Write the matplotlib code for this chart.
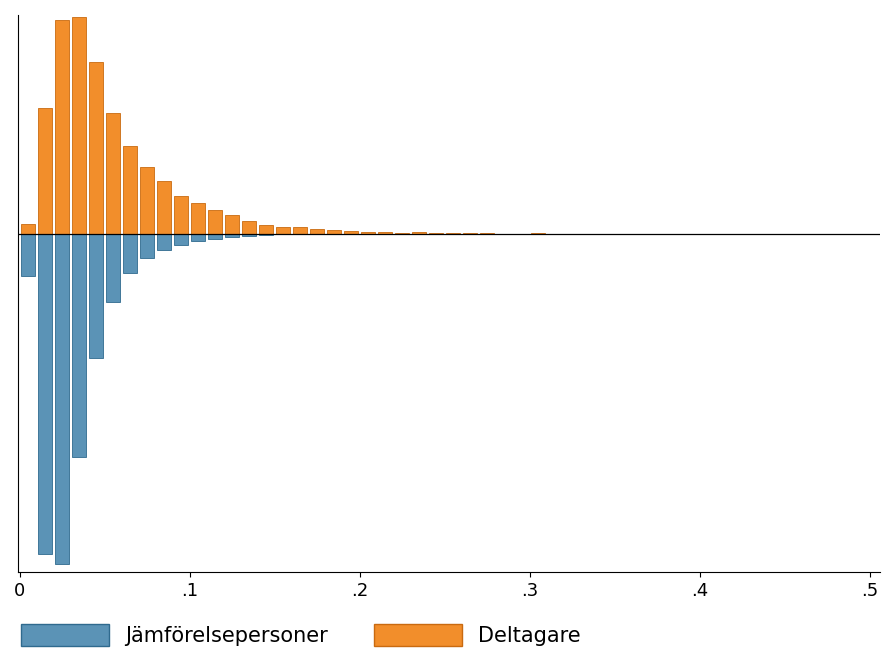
import matplotlib
matplotlib.use("Agg")
import matplotlib.pyplot as plt
import numpy as np
from matplotlib.patches import Patch

centers = [0.005 + 0.01*i for i in range(31)]
deltagare = [10,126,214,217,172,121,88,67,53,38,31,24,19,13,9,7,7,5,4,3,2,1.5,1,1.5,1,1,0.5,0.5,0,0,1]
jamfor = [42,320,330,223,124,68,39,24,16,11,7,5,3,2,1,0.5,0.5,0.3,0.3,0.2,0.2,0,0,0,0,0,0.5,0,0,0,0]

fig = plt.figure(figsize=(8.82,6.65), dpi=100)
ax = fig.add_axes([18/882, 93/665, 862/882, 557/665])
ax.bar(centers, deltagare, width=0.0083, color="#f28e2b", edgecolor="#c96a10", linewidth=0.6)
ax.bar(centers, [-v for v in jamfor], width=0.0083, color="#5b93b6", edgecolor="#2f6a8e", linewidth=0.6)
ax.axhline(0, color="black", linewidth=0.9)
ax.set_xlim(-0.001, 0.506)
ax.set_ylim(-338, 219)
ax.set_yticks([])
ax.set_xticks([0,0.1,0.2,0.3,0.4,0.5])
ax.set_xticklabels(["0",".1",".2",".3",".4",".5"], fontsize=13)
ax.spines["top"].set_visible(False)
ax.spines["right"].set_visible(False)
h = [Patch(facecolor="#5b93b6", edgecolor="#2f6a8e"), Patch(facecolor="#f28e2b", edgecolor="#c96a10")]
fig.legend(h, ["Jämförelsepersoner","Deltagare"], loc="lower left", bbox_to_anchor=(0.003,0.0),
           ncol=2, frameon=False, fontsize=15, handlelength=4.2, handleheight=1.3, columnspacing=2.2)
fig.savefig("out.png", dpi=100)
